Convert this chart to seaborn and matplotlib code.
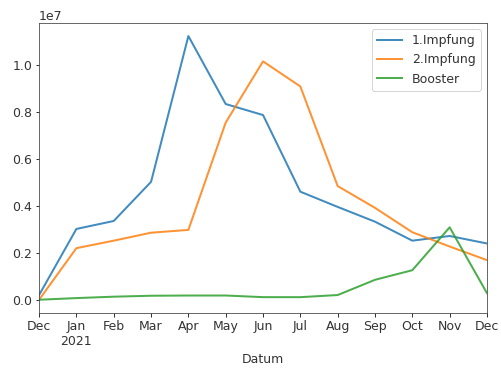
import matplotlib
matplotlib.use("Agg")
import matplotlib.pyplot as plt
import seaborn as sns
import pandas as pd

# Monthly vaccination counts, Dec 2020 – Dec 2021
months = ["Dec", "Jan\n2021", "Feb", "Mar", "Apr", "May", "Jun",
          "Jul", "Aug", "Sep", "Oct", "Nov", "Dec"]
erst = [0.20e6, 3.02e6, 3.36e6, 5.03e6, 11.25e6, 8.35e6, 7.88e6,
        4.61e6, 3.96e6, 3.33e6, 2.52e6, 2.72e6, 2.40e6]
zweit = [0.0, 2.20e6, 2.52e6, 2.86e6, 2.98e6, 7.56e6, 10.17e6,
         9.10e6, 4.85e6, 3.92e6, 2.88e6, 2.27e6, 1.69e6]
booster = [0.0, 0.07e6, 0.13e6, 0.17e6, 0.18e6, 0.18e6, 0.11e6,
           0.11e6, 0.20e6, 0.85e6, 1.26e6, 3.09e6, 0.28e6]
series = ["1.Impfung", "2.Impfung", "Booster"]

pos = list(range(len(months)))
df = pd.concat([
    pd.DataFrame({"Datum": pos, "Anzahl": vals, "Art": name})
    for name, vals in zip(series, [erst, zweit, booster])
])

plt.rcParams["font.size"] = 12.5
plt.rcParams["text.color"] = "#333333"
plt.rcParams["xtick.labelcolor"] = "#333333"
plt.rcParams["ytick.labelcolor"] = "#333333"
plt.rcParams["axes.labelcolor"] = "#333333"
fig, ax = plt.subplots(figsize=(501 / 72, 369 / 72), dpi=72)
fig.subplots_adjust(left=0.078, right=0.972, top=0.938, bottom=0.152)

sns.lineplot(data=df, x="Datum", y="Anzahl", hue="Art", hue_order=series,
             palette="tab10", linewidth=2, alpha=0.85, ax=ax)

ax.set_xlim(0, len(months) - 1)
ax.set_xticks(pos)
ax.set_xticklabels(months)
ax.set_ylabel("")
ax.set_xlabel("Datum", labelpad=5)
for s in ax.spines.values():
    s.set_color("#444444")
ax.legend(title=None, loc="upper right")

fig.savefig("out.png", dpi=72)
